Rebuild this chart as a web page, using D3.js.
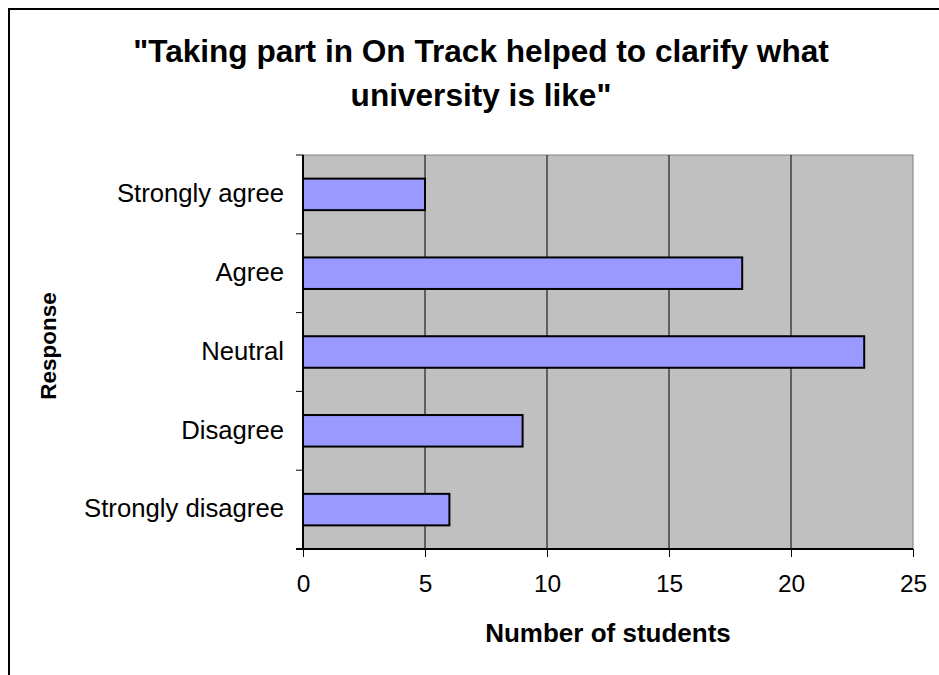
<!DOCTYPE html>
<html>
<head>
<meta charset="utf-8">
<script src="https://cdn.jsdelivr.net/npm/d3@7"></script>
<style>
  html, body { margin: 0; padding: 0; background: #fff; }
  svg { display: block; font-family: "Liberation Sans", Arial, sans-serif; }
</style>
</head>
<body>
<svg id="chart" width="939" height="675"></svg>
<script>
// Survey responses, top to bottom
const categories = ["Strongly agree", "Agree", "Neutral", "Disagree", "Strongly disagree"];
const counts = [5, 18, 23, 9, 6];
const xTicks = [0, 5, 10, 15, 20, 25];
const titleLines = ["\"Taking part in On Track helped to clarify what", "university is like\""];

const svg = d3.select("#chart");
const plot = { left: 303, top: 155, right: 913, bottom: 549 };

// Outer frame (runs off the right and bottom of the page)
svg.append("rect")
  .attr("x", 9).attr("y", 9)
  .attr("width", 1000).attr("height", 1000)
  .attr("fill", "#fff")
  .attr("stroke", "#000").attr("stroke-width", 2);

const x = d3.scaleLinear().domain([0, 25]).range([plot.left, plot.right]);
const y = d3.scaleBand().domain(categories).range([plot.top, plot.bottom]).paddingInner(0.6).paddingOuter(0.3);
const yEdges = d3.scaleBand().domain(categories).range([plot.top, plot.bottom]);

// Plot background
svg.append("rect")
  .attr("x", plot.left).attr("y", plot.top)
  .attr("width", plot.right - plot.left).attr("height", plot.bottom - plot.top)
  .attr("fill", "#c0c0c0")
  .attr("stroke", "#808080").attr("stroke-width", 1);

// Vertical gridlines
svg.append("g").selectAll("line")
  .data(xTicks.filter(d => d > 0 && d < 25))
  .join("line")
  .attr("x1", d => x(d)).attr("x2", d => x(d))
  .attr("y1", plot.top).attr("y2", plot.bottom)
  .attr("stroke", "#000").attr("stroke-width", 1);

// Bars
svg.append("g").selectAll("rect")
  .data(categories.map((c, i) => ({ c, v: counts[i] })))
  .join("rect")
  .attr("x", x(0))
  .attr("y", d => y(d.c))
  .attr("width", d => x(d.v) - x(0))
  .attr("height", y.bandwidth())
  .attr("fill", "#9999ff")
  .attr("stroke", "#000").attr("stroke-width", 2);

// X axis
const xAxis = svg.append("g")
  .attr("transform", `translate(0,${plot.bottom})`)
  .call(d3.axisBottom(x).tickValues(xTicks).tickSize(8).tickPadding(18).tickSizeOuter(0));
xAxis.select(".domain").attr("stroke", "#000").attr("stroke-width", 2).attr("d", `M${plot.left - 7},0H${plot.right}`);
xAxis.selectAll(".tick line").attr("stroke", "#000");
xAxis.selectAll("text").attr("font-size", 24.5).attr("fill", "#000")
  .attr("font-family", "Liberation Sans, Arial, sans-serif");

// Y axis: category labels centred on bands, ticks on band boundaries
const yAxisG = svg.append("g");
yAxisG.append("line")
  .attr("x1", plot.left).attr("x2", plot.left)
  .attr("y1", plot.top).attr("y2", plot.bottom)
  .attr("stroke", "#000").attr("stroke-width", 2);
const boundaries = categories.map(c => yEdges(c)).concat([plot.bottom]);
yAxisG.selectAll("line.tick")
  .data(boundaries)
  .join("line").attr("class", "tick")
  .attr("x1", plot.left - 7).attr("x2", plot.left)
  .attr("y1", d => d).attr("y2", d => d)
  .attr("stroke", "#000").attr("stroke-width", 1);
yAxisG.selectAll("text")
  .data(categories)
  .join("text")
  .attr("x", plot.left - 19)
  .attr("y", d => yEdges(d) + yEdges.bandwidth() / 2)
  .attr("dy", "0.3em")
  .attr("text-anchor", "end")
  .attr("font-size", 25.7)
  .text(d => d);

// Title
svg.append("g").selectAll("text")
  .data(titleLines)
  .join("text")
  .attr("x", 481)
  .attr("y", (d, i) => 62 + i * 44)
  .attr("text-anchor", "middle")
  .attr("font-size", 31.6)
  .attr("font-weight", "bold")
  .text(d => d);

// Axis titles
svg.append("text")
  .attr("x", (plot.left + plot.right) / 2)
  .attr("y", 642)
  .attr("text-anchor", "middle")
  .attr("font-size", 26)
  .attr("font-weight", "bold")
  .text("Number of students");

svg.append("text")
  .attr("transform", "translate(56,346) rotate(-90)")
  .attr("text-anchor", "middle")
  .attr("font-size", 22.5)
  .attr("font-weight", "bold")
  .text("Response");
</script>
</body>
</html>
